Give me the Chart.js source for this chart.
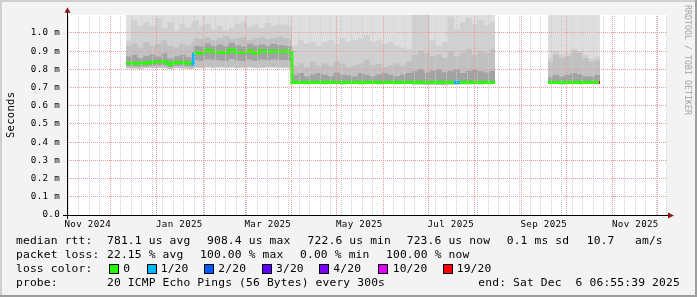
<!DOCTYPE html>
<html lang="en">
<head>
<meta charset="utf-8">
<title>Median RTT - last 400 days</title>
<script src="https://cdn.jsdelivr.net/npm/chart.js@4.4.1/dist/chart.umd.min.js"></script>
<style>
  html, body { margin: 0; padding: 0; background: #f3f3f3; }
  #wrap { position: relative; width: 697px; height: 297px; overflow: hidden; }
  #chart { position: absolute; left: 0; top: 0; }
  .t { position: absolute; font-family: 'DejaVu Sans Mono', monospace; font-size: 11.3px; letter-spacing: 0.15px; line-height: 14px; white-space: pre; color: #000; }
  .sw { position: absolute; top: 264px; width: 8px; height: 8px; border: 1px solid #000; }
  #wm { position: absolute; left: 693px; top: 5px; font-family: 'DejaVu Sans Mono', monospace; font-size: 8.3px; line-height: 10px; color: #a4a4a4; white-space: pre; transform: rotate(90deg); transform-origin: 0 0; }
</style>
</head>
<body>
<div id="wrap">
  <canvas id="chart" width="697" height="297"></canvas>

  <div class="t" style="left:16px;top:233.7px">median rtt:</div>
  <div class="t" style="left:107px;top:233.7px">781.1 us avg</div>
  <div class="t" style="left:207px;top:233.7px">908.4 us max</div>
  <div class="t" style="left:307.6px;top:233.7px">722.6 us min</div>
  <div class="t" style="left:406.7px;top:233.7px">723.6 us now</div>
  <div class="t" style="left:506.7px;top:233.7px">0.1 ms sd</div>
  <div class="t" style="left:586.7px;top:233.7px">10.7</div>
  <div class="t" style="left:635px;top:233.7px">am/s</div>

  <div class="t" style="left:16px;top:247.8px">packet loss:</div>
  <div class="t" style="left:107px;top:247.8px">22.15 % avg</div>
  <div class="t" style="left:200px;top:247.8px">100.00 % max</div>
  <div class="t" style="left:300px;top:247.8px">0.00 % min</div>
  <div class="t" style="left:386px;top:247.8px">100.00 % now</div>

  <div class="t" style="left:16px;top:261.9px">loss color:</div>
  <div class="sw" style="left:108.7px;background:#26ff00"></div>
  <div class="t" style="left:123.3px;top:261.9px">0</div>
  <div class="sw" style="left:146.7px;background:#00b8ff"></div>
  <div class="t" style="left:160.7px;top:261.9px">1/20</div>
  <div class="sw" style="left:204px;background:#0059ff"></div>
  <div class="t" style="left:218.3px;top:261.9px">2/20</div>
  <div class="sw" style="left:261.7px;background:#5e00ff"></div>
  <div class="t" style="left:276px;top:261.9px">3/20</div>
  <div class="sw" style="left:319.3px;background:#7e00ff"></div>
  <div class="t" style="left:333.3px;top:261.9px">4/20</div>
  <div class="sw" style="left:377.7px;background:#dd00ff"></div>
  <div class="t" style="left:392.7px;top:261.9px">10/20</div>
  <div class="sw" style="left:442.7px;background:#ff0000"></div>
  <div class="t" style="left:456.7px;top:261.9px">19/20</div>

  <div class="t" style="left:16px;top:276px">probe:</div>
  <div class="t" style="left:107px;top:276px">20 ICMP Echo Pings (56 Bytes) every 300s</div>
  <div class="t" style="left:478.3px;top:276px">end: Sat Dec  6 06:55:39 2025</div>

  <div id="wm">RRDTOOL / TOBI OETIKER</div>
</div>
<script>
// days since 2024-11-01, one entry per sample (null row = no data)
const days = [
  40.5, 44, 48, 52, 56, 60, 64, 68, 72, 76, 80, 84,
  85.5, 89, 93, 97, 101, 105, 109, 113, 117, 121, 125, 129, 133, 137, 141, 145, 149,
  151, 155, 159, 163, 167, 171, 175, 179, 183, 187, 191, 195, 199, 203, 207, 211, 215,
  219, 223, 227, 231, 235, 239, 243, 247, 251, 255, 259, 263, 267, 271, 275, 279, 283, 286.5,
  300,
  321.8, 325, 329, 333, 337, 341, 345, 349, 353, 355.8, 356.5
];

// values in ms
const median = [
  0.834, 0.832, 0.834, 0.835, 0.839, 0.841, 0.841, 0.828, 0.837, 0.836, 0.834, 0.829,
  0.893, 0.888, 0.905, 0.897, 0.895, 0.893, 0.908, 0.894, 0.892, 0.900, 0.890, 0.902, 0.897, 0.900, 0.897, 0.900, 0.893,
  0.728, 0.727, 0.728, 0.727, 0.728, 0.729, 0.727, 0.728, 0.727, 0.728, 0.728, 0.727, 0.728, 0.729, 0.728, 0.727,
  0.728, 0.727, 0.728, 0.728, 0.729, 0.728, 0.727, 0.728, 0.729, 0.728, 0.727, 0.728, 0.728, 0.729, 0.728, 0.727, 0.728, 0.728, 0.728,
  null,
  0.728, 0.727, 0.728, 0.728, 0.727, 0.728, 0.728, 0.727, 0.728, 0.728, 0.728
];
const pingMin = [
  0.806, 0.806, 0.805, 0.807, 0.808, 0.809, 0.809, 0.803, 0.807, 0.806, 0.805, 0.803,
  0.810, 0.808, 0.811, 0.810, 0.812, 0.810, 0.811, 0.808, 0.810, 0.811, 0.808, 0.810, 0.811, 0.812, 0.810, 0.810, 0.808,
  0.719, 0.719, 0.718, 0.719, 0.719, 0.718, 0.719, 0.719, 0.718, 0.719, 0.719, 0.718, 0.719, 0.719, 0.718, 0.719,
  0.719, 0.718, 0.719, 0.719, 0.717, 0.716, 0.715, 0.716, 0.714, 0.713, 0.716, 0.717, 0.718, 0.718, 0.719, 0.718, 0.719, 0.719, 0.719,
  null,
  0.719, 0.719, 0.718, 0.719, 0.719, 0.718, 0.719, 0.719, 0.718, 0.719, 0.719
];
const pingLow = [
  0.818, 0.817, 0.816, 0.818, 0.820, 0.822, 0.822, 0.813, 0.819, 0.819, 0.817, 0.815,
  0.850, 0.846, 0.856, 0.851, 0.850, 0.846, 0.857, 0.849, 0.845, 0.852, 0.846, 0.853, 0.850, 0.854, 0.850, 0.851, 0.846,
  0.722, 0.722, 0.721, 0.722, 0.722, 0.721, 0.722, 0.722, 0.721, 0.722, 0.722, 0.721, 0.722, 0.722, 0.721, 0.722,
  0.722, 0.721, 0.722, 0.722, 0.721, 0.720, 0.720, 0.720, 0.719, 0.719, 0.720, 0.721, 0.721, 0.722, 0.722, 0.721, 0.722, 0.722, 0.722,
  null,
  0.722, 0.722, 0.721, 0.722, 0.722, 0.721, 0.722, 0.722, 0.721, 0.722, 0.722
];
const pingHigh = [
  0.870, 0.880, 0.862, 0.872, 0.882, 0.870, 0.888, 0.860, 0.872, 0.880, 0.868, 0.862,
  0.930, 0.925, 0.942, 0.930, 0.936, 0.928, 0.946, 0.932, 0.925, 0.940, 0.930, 0.937, 0.931, 0.941, 0.934, 0.930, 0.928,
  0.770, 0.780, 0.762, 0.772, 0.780, 0.770, 0.762, 0.782, 0.770, 0.768, 0.760, 0.778, 0.770, 0.762, 0.772, 0.780,
  0.770, 0.762, 0.772, 0.780, 0.790, 0.802, 0.782, 0.792, 0.800, 0.784, 0.792, 0.802, 0.780, 0.792, 0.800, 0.790, 0.782, 0.792, 0.792,
  null,
  0.758, 0.770, 0.762, 0.770, 0.780, 0.772, 0.762, 0.760, 0.770, 0.770, 0.770
];
const pingUpper = [
  0.930, 0.942, 0.920, 0.950, 0.930, 0.940, 0.958, 0.930, 0.920, 0.940, 0.930, 0.950,
  0.970, 0.965, 0.975, 0.960, 0.970, 0.982, 0.965, 0.970, 0.976, 0.960, 0.970, 0.975, 0.965, 0.972, 0.980, 0.970, 0.965,
  0.820, 0.832, 0.812, 0.842, 0.820, 0.832, 0.820, 0.842, 0.830, 0.812, 0.822, 0.832, 0.852, 0.822, 0.830, 0.812,
  0.822, 0.832, 0.820, 0.842, 0.880, 0.902, 0.890, 0.872, 0.882, 0.862, 0.900, 0.872, 0.890, 0.910, 0.880, 0.900, 0.890, 0.910, 0.910,
  null,
  0.840, 0.880, 0.862, 0.872, 0.902, 0.890, 0.862, 0.842, 0.850, 0.850, 0.850
];
const pingOuter = [
  0.960, 1.070, 1.040, 1.060, 1.040, 1.080, 1.030, 1.060, 1.010, 1.050, 1.030, 1.060,
  1.070, 1.040, 1.050, 1.020, 1.040, 1.015, 1.030, 1.050, 1.060, 1.035, 1.045, 1.025, 1.055, 1.040, 1.050, 1.045, 1.035,
  0.930, 0.960, 0.940, 0.950, 0.930, 0.950, 0.960, 0.940, 0.970, 0.950, 0.960, 0.970, 0.990, 0.950, 0.960, 0.940,
  0.950, 0.930, 0.920, 0.910, 1.100, 1.100, 1.100, 0.960, 0.930, 0.950, 1.090, 1.020, 1.060, 1.080, 1.050, 1.070, 1.040, 1.060, 1.060,
  null,
  0.860, 0.900, 0.880, 0.890, 0.912, 0.900, 0.880, 0.860, 0.870, 0.870, 0.870
];
// lost pings out of 20, per sample
const loss = [
  0, 0, 0, 0, 0, 0, 0, 0, 0, 0, 0, 1,
  0, 0, 0, 0, 0, 0, 0, 0, 0, 0, 0, 0, 0, 0, 0, 0, 0,
  0, 0, 0, 0, 0, 0, 0, 0, 0, 0, 0, 0, 0, 0, 0, 0,
  0, 0, 0, 0, 0, 0, 0, 0, 0, 0, 0, 1, 0, 0, 0, 0, 0, 0, 0,
  null,
  0, 0, 0, 0, 0, 0, 0, 0, 0, 19, 19
];

const lossSteps = [0, 1, 2, 3, 4, 10, 19];
const lossColors = ['#26ff00', '#00b8ff', '#0059ff', '#5e00ff', '#7e00ff', '#dd00ff', '#ff0000'];

const xLabels = ['Nov 2024', 'Jan 2025', 'Mar 2025', 'May 2025', 'Jul 2025', 'Sep 2025', 'Nov 2025'];
const yTickLabels = ['0.0', '0.1 m', '0.2 m', '0.3 m', '0.4 m', '0.5 m', '0.6 m', '0.7 m', '0.8 m', '0.9 m', '1.0 m'];

const xMin = 1.13, xMax = 401.13;
const monthNames = ['Jan', 'Feb', 'Mar', 'Apr', 'May', 'Jun', 'Jul', 'Aug', 'Sep', 'Oct', 'Nov', 'Dec'];
const t0 = Date.UTC(2024, 10, 1);
const dayOf = (y, m, d) => (Date.UTC(y, m, d) - t0) / 864e5;

const majorGrid = '#eb9b9b';
const minorGrid = '#cccccc';
const clear = 'rgba(0,0,0,0)';
const axisFont = { family: 'DejaVu Sans Mono', size: 9.2 };

function lossColor(n) {
  let c = lossColors[0];
  lossSteps.forEach((s, i) => { if (n >= s) c = lossColors[i]; });
  return c;
}

function pts(arr) {
  return days.map((d, i) => ({ x: d, y: arr[i] }));
}

function band(label, arr, fill, color, order) {
  return {
    label: label,
    data: pts(arr),
    fill: fill,
    backgroundColor: color,
    borderWidth: 0,
    pointRadius: 0,
    stepped: true,
    spanGaps: false,
    order: order
  };
}

// x ticks: month starts (red), sundays (grey), labels mid month
function buildXTicks(scale) {
  const ticks = [];
  const starts = [];
  for (let y = 2024; y <= 2025; y++) {
    for (let m = 0; m < 12; m++) {
      const d = dayOf(y, m, 1);
      if (d > xMin && d < xMax) {
        ticks.push({ value: d, kind: 'month' });
        starts.push(d);
      }
    }
  }
  for (let d = 2; d < xMax; d += 7) {
    if (d > xMin && starts.indexOf(d) < 0) ticks.push({ value: d, kind: 'week' });
  }
  xLabels.forEach(function (s) {
    const parts = s.split(' ');
    ticks.push({ value: dayOf(+parts[1], monthNames.indexOf(parts[0]), 16), kind: 'label', text: s });
  });
  ticks.sort((a, b) => a.value - b.value);
  scale.ticks = ticks;
}

function yGridColor(c) {
  if (!c.tick) return clear;
  const v = c.tick.value;
  return (v > 0.05 && v < 1.05) ? majorGrid : clear;
}

function xGridColor(c) {
  if (!c.tick) return clear;
  if (c.tick.kind === 'month') return majorGrid;
  if (c.tick.kind === 'week') return minorGrid;
  return clear;
}

const frame = {
  id: 'frame',
  beforeDraw(chart) {
    const ctx = chart.ctx;
    const a = chart.chartArea;
    ctx.save();
    ctx.fillStyle = '#f3f3f3';
    ctx.fillRect(0, 0, 697, 297);
    ctx.fillStyle = '#cfcfcf';
    ctx.fillRect(0, 0, 697, 2);
    ctx.fillRect(0, 0, 2, 297);
    ctx.fillStyle = '#9e9e9e';
    ctx.fillRect(695, 0, 2, 297);
    ctx.fillRect(0, 295, 697, 2);
    ctx.fillStyle = '#ffffff';
    ctx.fillRect(a.left, a.top, a.right - a.left, a.bottom - a.top);
    ctx.restore();
    ctx.letterSpacing = '0.3px';
  },
  afterDraw(chart) {
    const ctx = chart.ctx;
    const a = chart.chartArea;
    ctx.letterSpacing = '0px';
    ctx.save();
    ctx.strokeStyle = '#000';
    ctx.lineWidth = 1;
    ctx.beginPath();
    ctx.moveTo(a.left - 4, a.bottom + 0.5);
    ctx.lineTo(a.right + 1, a.bottom + 0.5);
    ctx.moveTo(a.left + 0.5, a.bottom + 4);
    ctx.lineTo(a.left + 0.5, a.top - 4);
    ctx.stroke();
    ctx.fillStyle = '#8b1a1a';
    ctx.beginPath();
    ctx.moveTo(a.right + 1, a.bottom - 2.5);
    ctx.lineTo(a.right + 7, a.bottom + 0.5);
    ctx.lineTo(a.right + 1, a.bottom + 3.5);
    ctx.closePath();
    ctx.fill();
    ctx.beginPath();
    ctx.moveTo(a.left - 2.5, a.top - 2);
    ctx.lineTo(a.left + 0.5, a.top - 7.5);
    ctx.lineTo(a.left + 3.5, a.top - 2);
    ctx.closePath();
    ctx.fill();
    ctx.restore();
  }
};

const chart = new Chart(document.getElementById('chart'), {
  type: 'line',
  data: {
    datasets: [
      {
        label: 'median',
        data: pts(median),
        fill: false,
        borderWidth: 3,
        borderColor: lossColors[0],
        borderCapStyle: 'butt',
        pointRadius: 0,
        stepped: true,
        spanGaps: false,
        order: 0,
        segment: {
          borderColor: c => lossColor(loss[c.p0DataIndex])
        }
      },
      band('max', pingMin, 'end', '#dedede', 50),
      band('outer', pingOuter, 1, '#d0d0d0', 40),
      band('upper', pingUpper, 1, '#c0c0c0', 30),
      band('low', pingLow, false, clear, 25),
      band('high', pingHigh, 4, '#a2a2a2', 20)
    ]
  },
  options: {
    responsive: false,
    animation: false,
    events: [],
    layout: { padding: { left: 0, right: 30, top: 14.7, bottom: 0 } },
    plugins: {
      legend: { display: false },
      tooltip: { enabled: false }
    },
    scales: {
      x: {
        type: 'linear',
        min: xMin,
        max: xMax,
        afterFit: s => { s.height = 82; },
        afterBuildTicks: buildXTicks,
        ticks: {
          autoSkip: false,
          maxRotation: 0,
          padding: 4,
          color: '#000',
          font: axisFont,
          callback: (v, i, ticks) => ticks[i].text || ''
        },
        grid: {
          z: 1,
          drawTicks: false,
          lineWidth: 1,
          color: xGridColor
        },
        border: { display: false, dash: [1, 1], dashOffset: 0.7 }
      },
      y: {
        min: 0,
        max: 1.1,
        afterFit: s => { s.width = 67; },
        title: {
          display: true,
          text: 'Seconds',
          color: '#000',
          font: { family: 'DejaVu Sans Mono', size: 10.5 },
          padding: { top: 4.5, bottom: 0 }
        },
        ticks: {
          stepSize: 0.1,
          autoSkip: false,
          padding: 7,
          color: '#000',
          font: axisFont,
          callback: v => yTickLabels[Math.round(v * 10)] || ''
        },
        grid: {
          z: 1,
          drawTicks: false,
          lineWidth: 1,
          color: yGridColor
        },
        border: { display: false, dash: [1, 1] }
      }
    }
  },
  plugins: [frame]
});
</script>
</body>
</html>
